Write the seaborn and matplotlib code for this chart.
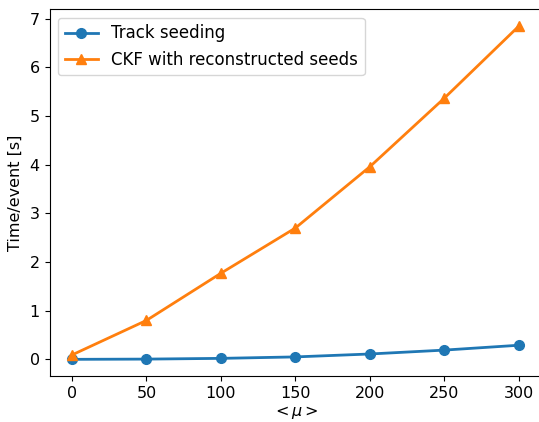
import matplotlib
matplotlib.use('Agg')
import matplotlib.pyplot as plt
import numpy as np
import pandas as pd
import seaborn as sns

# Data
mu = [0, 50, 100, 150, 200, 250, 300]
seeding_time = [0.0, 0.005, 0.02, 0.05, 0.11, 0.19, 0.29]
ckf_time = [0.09, 0.80, 1.77, 2.70, 3.96, 5.37, 6.85]
series_names = ['Track seeding', 'CKF with reconstructed seeds']

plt.rcParams['font.family'] = ['DejaVu Sans']
plt.rcParams['font.size'] = 11.5

df = pd.DataFrame({
    'mu': mu * 2,
    'time': seeding_time + ckf_time,
    'series': [series_names[0]] * len(mu) + [series_names[1]] * len(mu),
})

fig = plt.figure(figsize=(5.39, 4.22), dpi=100)
ax = fig.add_axes([0.092, 0.109, 0.912, 0.8685])
sns.lineplot(data=df, x='mu', y='time', hue='series', style='series',
             markers=['o', '^'], dashes=False, markersize=7, linewidth=2,
             palette=['#1f77b4', '#ff7f0e'], ax=ax)

# matplotlib-style markers: edge in the line colour
for line in ax.lines:
    line.set_markeredgecolor(line.get_color())
    line.set_markeredgewidth(1)

ax.set_xlabel(r'$<\mu>$', fontsize=11.5, labelpad=2)
ax.set_ylabel('Time/event [s]', fontsize=11.5, labelpad=5)
ax.set_xticks([0, 50, 100, 150, 200, 250, 300])
ax.set_yticks(range(0, 8))
ax.set_xlim(-15, 315)
ax.set_ylim(-0.3425, 7.1925)
ax.tick_params(labelsize=11.5)
leg = ax.legend(loc='upper left', fontsize=12, title=None)
for h in leg.legend_handles:
    h.set_markeredgecolor(h.get_color())
    h.set_markeredgewidth(1)

plt.savefig('out.png', dpi=100)
plt.close()
